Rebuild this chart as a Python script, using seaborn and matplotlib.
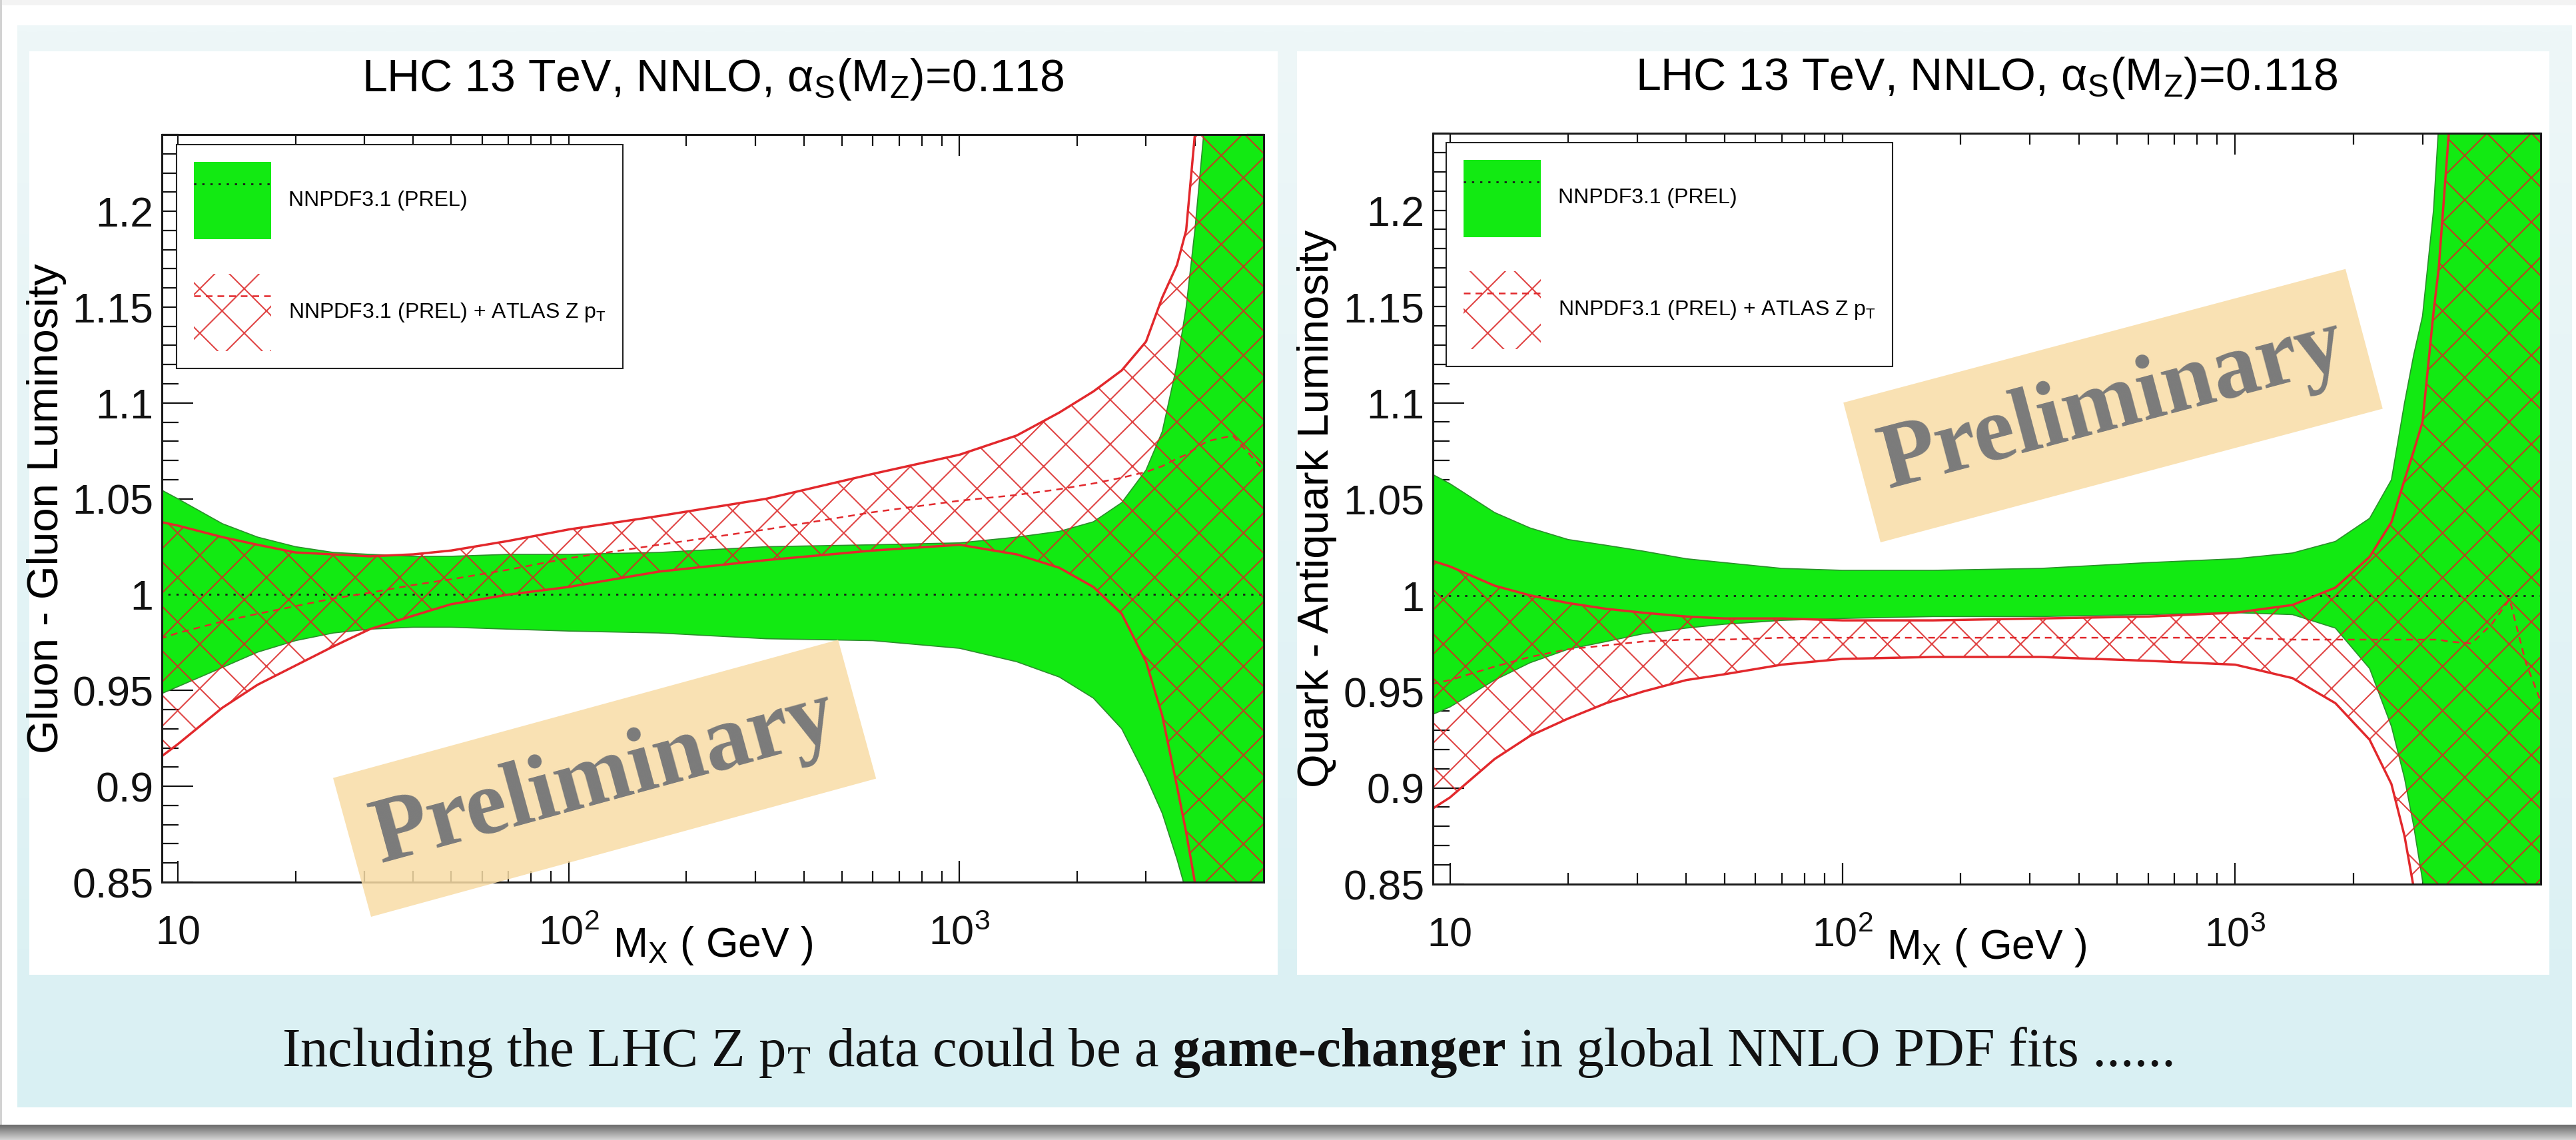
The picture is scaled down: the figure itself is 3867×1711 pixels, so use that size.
import numpy as np
import matplotlib
matplotlib.use("Agg")
import matplotlib.pyplot as plt
import seaborn as sns
from matplotlib.patches import Patch, Rectangle
from matplotlib.lines import Line2D
from matplotlib.ticker import LogLocator, MultipleLocator, NullFormatter
from matplotlib.colors import LinearSegmentedColormap

# ---------------------------------------------------------------- data ----
# Gluon-gluon luminosity ratio to NNPDF3.1 (PREL), LHC 13 TeV
gg_mass = [9, 10, 13, 16, 20, 25, 31, 40, 50, 70, 100, 170, 320, 600, 1000,
           1400, 1800, 2200, 2600, 3000, 3300, 3600, 3800, 4000, 4300, 5000, 6000]
gg_nnpdf_hi = [1.055, 1.050, 1.037, 1.030, 1.025, 1.022, 1.021, 1.020, 1.020, 1.021,
               1.021, 1.022, 1.025, 1.026, 1.027, 1.030, 1.033, 1.038, 1.048, 1.065,
               1.085, 1.120, 1.150, 1.190, 1.260, 1.350, 1.400]
gg_nnpdf_lo = [0.948, 0.952, 0.962, 0.970, 0.976, 0.980, 0.982, 0.983, 0.983, 0.982,
               0.981, 0.980, 0.977, 0.976, 0.972, 0.965, 0.957, 0.946, 0.930, 0.905,
               0.886, 0.862, 0.845, 0.825, 0.790, 0.720, 0.650]
gg_zpt_hi = [1.038, 1.036, 1.030, 1.026, 1.022, 1.021, 1.020, 1.021, 1.023, 1.028,
             1.034, 1.041, 1.050, 1.063, 1.073, 1.083, 1.095, 1.106, 1.117, 1.132,
             1.155, 1.172, 1.190, 1.240, 1.290, 1.350, 1.400]
gg_zpt_lo = [0.915, 0.922, 0.941, 0.953, 0.963, 0.973, 0.982, 0.989, 0.995, 1.000,
             1.004, 1.012, 1.018, 1.023, 1.026, 1.021, 1.014, 1.004, 0.990, 0.965,
             0.937, 0.900, 0.876, 0.850, 0.815, 0.750, 0.700]
gg_zpt_mid = [0.977, 0.980, 0.986, 0.990, 0.994, 0.998, 1.001, 1.005, 1.008, 1.013,
              1.019, 1.026, 1.034, 1.043, 1.049, 1.052, 1.055, 1.058, 1.061, 1.064,
              1.067, 1.071, 1.073, 1.076, 1.080, 1.083, 1.065]

# Quark-antiquark luminosity ratio to NNPDF3.1 (PREL), LHC 13 TeV
qq_mass = [9, 10, 13, 16, 20, 25, 31, 40, 50, 70, 100, 170, 320, 600, 1000,
           1400, 1800, 2200, 2500, 2700, 2850, 3000, 3200, 3300, 3500, 4000,
           4500, 5000, 5500, 6000]
qq_nnpdf_hi = [1.063, 1.058, 1.043, 1.035, 1.029, 1.026, 1.023, 1.019, 1.017, 1.014,
               1.013, 1.013, 1.014, 1.017, 1.019, 1.022, 1.028, 1.040, 1.060, 1.100,
               1.125, 1.145, 1.200, 1.245, 1.300, 1.400, 1.400, 1.400, 1.400, 1.400]
qq_nnpdf_lo = [0.938, 0.942, 0.956, 0.965, 0.972, 0.976, 0.980, 0.983, 0.985, 0.987,
               0.988, 0.989, 0.989, 0.990, 0.991, 0.990, 0.983, 0.962, 0.932, 0.905,
               0.880, 0.852, 0.820, 0.800, 0.760, 0.700, 0.700, 0.700, 0.700, 0.700]
qq_zpt_hi = [1.018, 1.015, 1.005, 1.000, 0.996, 0.993, 0.991, 0.989, 0.988, 0.988,
             0.987, 0.987, 0.988, 0.989, 0.991, 0.995, 1.004, 1.020, 1.038, 1.060,
             1.075, 1.090, 1.147, 1.170, 1.240, 1.400, 1.400, 1.400, 1.400, 1.400]
qq_zpt_lo = [0.889, 0.895, 0.915, 0.927, 0.936, 0.944, 0.950, 0.956, 0.959, 0.964,
             0.967, 0.968, 0.968, 0.966, 0.964, 0.957, 0.944, 0.925, 0.902, 0.875,
             0.848, 0.820, 0.780, 0.760, 0.720, 0.700, 0.700, 0.700, 0.700, 0.700]
qq_zpt_mid = [0.954, 0.956, 0.963, 0.968, 0.972, 0.974, 0.976, 0.977, 0.977, 0.978,
              0.978, 0.978, 0.978, 0.978, 0.978, 0.977, 0.977, 0.977, 0.977, 0.977,
              0.977, 0.977, 0.977, 0.977, 0.976, 0.975, 0.985, 0.998, 0.965, 0.945]

# NNPDF3.1 central value (ratio to itself)
ref_mass = [9, 6000]
ref_ratio = [1.0, 1.0]

panel_titles = [r"LHC 13 TeV, NNLO, α$_{\mathrm{S}}$(M$_{\mathrm{Z}}$)=0.118"] * 2
panel_ylabels = ["Gluon - Gluon Luminosity", "Quark - Antiquark Luminosity"]
x_label = r"M$_{\mathrm{X}}$ ( GeV )"
legend_labels = ["NNPDF3.1 (PREL)", r"NNPDF3.1 (PREL) + ATLAS Z p$_{\mathrm{T}}$"]
x_tick_vals = [10, 100, 1000]
x_tick_labels = ["10", r"$\mathregular{10^{2}}$", r"$\mathregular{10^{3}}$"]
y_tick_vals = [0.85, 0.90, 0.95, 1.00, 1.05, 1.10, 1.15, 1.20]
y_tick_labels = ["0.85", "0.9", "0.95", "1", "1.05", "1.1", "1.15", "1.2"]
stamp_text = "Preliminary"
caption_parts = [r"Including the LHC Z p$_{\mathrm{T}}$ data could be a",
                 " game-changer", " in global NNLO PDF fits ......"]

# --------------------------------------------------------------- style ----
W, H, DPI = 3867, 1711, 200


def pt(v):
    """Sizes below are tuned on a 100-dpi scale; convert to the output dpi."""
    return v * 100.0 / DPI


GREEN = "#12ea12"
GREEN_EDGE = "#2b8f2b"
RED = "#e2282c"
HATCH = (0.86, 0.14, 0.14, 0.85)

sns.set_theme(style="ticks")
plt.rcParams.update({
    "font.family": ["Liberation Sans", "DejaVu Sans"],
    "mathtext.fontset": "custom",
    "mathtext.rm": "Liberation Sans",
    "mathtext.it": "Liberation Sans:italic",
    "mathtext.bf": "Liberation Sans:bold",
    "mathtext.sf": "Liberation Sans",
    "hatch.linewidth": pt(1.5),
    "axes.axisbelow": True,
    "text.color": "black",
    "axes.labelcolor": "black",
    "xtick.color": "#111111",
    "ytick.color": "#111111",
})

fig = plt.figure(figsize=(W / DPI, H / DPI), dpi=DPI, facecolor="white")

# ---------------------------------------------------------- background ----
bg = fig.add_axes([0, 0, 1, 1], zorder=-10)
bg.axis("off")
panel_cmap = LinearSegmentedColormap.from_list("panel", ["#eef7f8", "#d9f0f3"])
bg.imshow(np.linspace(0, 1, 256).reshape(-1, 1), extent=(26, 3861, 1662, 38),
          cmap=panel_cmap, aspect="auto", interpolation="bilinear", zorder=0)
shadow_cmap = LinearSegmentedColormap.from_list("shadow", ["#6a6a6a", "#d4d4d4"])
bg.imshow(np.linspace(0, 1, 64).reshape(-1, 1), extent=(0, W, H, 1688),
          cmap=shadow_cmap, aspect="auto", interpolation="bilinear", zorder=0)
bg.add_patch(Rectangle((44, 77), 1874, 1386, facecolor="white", edgecolor="none", zorder=1))
bg.add_patch(Rectangle((1947, 77), 1880, 1386, facecolor="white", edgecolor="none", zorder=1))
bg.add_patch(Rectangle((0, 0), W, 8, facecolor="#f3f3f3", edgecolor="none", zorder=1))
bg.add_patch(Rectangle((0, 0), 3, 1688, facecolor="#d2d2d2", edgecolor="none", zorder=1))
bg.set_xlim(0, W)
bg.set_ylim(H, 0)

# Caption line with a bold phrase in the middle
cap_kw = dict(fontsize=pt(59.5), family="Liberation Serif", color="#111111")
c1 = bg.text(423, 1600, caption_parts[0], va="baseline", ha="left",
             math_fontfamily="stix", **cap_kw)
c2 = bg.annotate(caption_parts[1], xy=(1, 1600), xycoords=(c1, "data"),
                 va="baseline", ha="left", fontweight="bold", **cap_kw)
c3 = bg.annotate(caption_parts[2], xy=(1, 1600), xycoords=(c2, "data"),
                 va="baseline", ha="left", **cap_kw)


# ------------------------------------------------------------- panels ----
def px_axes(x0, y0, x1, y1):
    return fig.add_axes([x0 / W, 1 - y1 / H, (x1 - x0) / W, (y1 - y0) / H])


def draw_panel(ax, mass, nn_lo, nn_hi, z_lo, z_hi, z_mid, title, ylabel, xlim,
               legend_anchor):
    ax.set_facecolor("white")
    ax.set_xscale("log")

    # NNPDF3.1 band
    ax.fill_between(mass, nn_lo, nn_hi, facecolor=GREEN, edgecolor="none",
                    linewidth=0, zorder=1)
    for edge in (nn_lo, nn_hi):
        sns.lineplot(x=mass, y=edge, ax=ax, color=GREEN_EDGE, linewidth=pt(1.2),
                     errorbar=None, sort=False, zorder=1.2)
    sns.lineplot(x=ref_mass, y=ref_ratio, ax=ax, color="#1a1a1a", linewidth=pt(2.0),
                 linestyle=(0, (1.2, 3.2)), errorbar=None, sort=False, zorder=1.4)

    # NNPDF3.1 + ATLAS Z pT band
    ax.fill_between(mass, z_lo, z_hi, facecolor="none", edgecolor=HATCH,
                    hatch="x", linewidth=0, zorder=2)
    for edge in (z_lo, z_hi):
        sns.lineplot(x=mass, y=edge, ax=ax, color=RED, linewidth=pt(2.5),
                     errorbar=None, sort=False, zorder=2.2)
    sns.lineplot(x=mass, y=z_mid, ax=ax, color=RED, linewidth=pt(1.8),
                 linestyle=(0, (4, 3)), errorbar=None, sort=False, zorder=2.3)

    ax.set_xlim(*xlim)
    ax.set_ylim(0.85, 1.24)

    ax.set_xticks(x_tick_vals, labels=x_tick_labels)
    ax.xaxis.set_minor_locator(LogLocator(base=10, subs="auto"))
    ax.xaxis.set_minor_formatter(NullFormatter())
    ax.set_yticks(y_tick_vals, labels=y_tick_labels)
    ax.yaxis.set_minor_locator(MultipleLocator(0.01))

    ax.tick_params(axis="both", which="both", direction="in", top=True,
                   right=True, width=pt(1.6), colors="#111111")
    ax.tick_params(axis="y", which="major", length=pt(34), pad=pt(9),
                   labelsize=pt(45))
    ax.tick_params(axis="y", which="minor", length=pt(18))
    ax.tick_params(axis="x", which="major", length=pt(23), pad=pt(67),
                   labelsize=pt(44))
    ax.tick_params(axis="x", which="minor", length=pt(12))
    for lab in ax.get_xticklabels():
        lab.set_verticalalignment("baseline")

    for sp in ax.spines.values():
        sp.set_linewidth(pt(2.2))
        sp.set_color("#1a1a1a")
        sp.set_zorder(5)

    ax.set_title(title, fontsize=pt(49), pad=pt(47))
    ax.set_xlabel(x_label, fontsize=pt(45), va="baseline")
    ax.xaxis.set_label_coords(0.5, -0.0998)
    ax.set_ylabel(ylabel, fontsize=pt(47), va="center")
    ax.yaxis.set_label_coords(-0.1046, 0.5)

    h_nn = (Patch(facecolor=GREEN, edgecolor="none"),
            Line2D([], [], color="#1a1a1a", linewidth=pt(2.0),
                   linestyle=(0, (1.2, 3.2))))
    h_z = (Patch(facecolor="white", edgecolor=HATCH, hatch="x", linewidth=0),
           Line2D([], [], color=RED, linewidth=pt(1.8), linestyle=(0, (4, 3))))
    leg = ax.legend([h_nn, h_z], legend_labels, loc="upper left",
                    bbox_to_anchor=legend_anchor, borderaxespad=0,
                    fontsize=pt(23), handlelength=3.65, handleheight=5.25,
                    handletextpad=0.8, labelspacing=1.6, borderpad=0.8,
                    fancybox=False, framealpha=1, edgecolor="#222222")
    leg.get_frame().set_linewidth(pt(1.5))
    leg.set_zorder(6)


ax_gg = px_axes(243, 202, 1897, 1324)
draw_panel(ax_gg, gg_mass, gg_nnpdf_lo, gg_nnpdf_hi, gg_zpt_lo, gg_zpt_hi,
           gg_zpt_mid, panel_titles[0], panel_ylabels[0], (9.1, 6000),
           (0.0133, 0.9866))

ax_qq = px_axes(2151, 200, 3814, 1327)
draw_panel(ax_qq, qq_mass, qq_nnpdf_lo, qq_nnpdf_hi, qq_zpt_lo, qq_zpt_hi,
           qq_zpt_mid, panel_titles[1], panel_ylabels[1], (9.05, 6000),
           (0.012, 0.9876))


# ------------------------------------------------------ "Preliminary" ----
def stamp(x0, y0, w, h, angle):
    """Beige rotated label; (x0, y0) is the lower-left corner in pixels, y up."""
    rect = Rectangle((x0 / DPI, y0 / DPI), w / DPI, h / DPI, angle=angle,
                     transform=fig.dpi_scale_trans, facecolor="#f8dca6",
                     edgecolor="none", alpha=0.85, zorder=8)
    fig.add_artist(rect)
    a = np.deg2rad(angle)
    cx = x0 + 0.5 * w * np.cos(a) - 0.5 * h * np.sin(a)
    cy = y0 + 0.5 * w * np.sin(a) + 0.5 * h * np.cos(a)
    fig.text(cx / W, cy / H, stamp_text, rotation=angle, rotation_mode="anchor",
             ha="center", va="center", fontsize=pt(100), family="Liberation Serif",
             fontweight="bold", color="#7b7b7b", zorder=9)


stamp(557, 335, 786, 216, 15.3)
stamp(2823, 897, 780, 217, 14.9)

fig.savefig("out.png", dpi=DPI, facecolor="white")
